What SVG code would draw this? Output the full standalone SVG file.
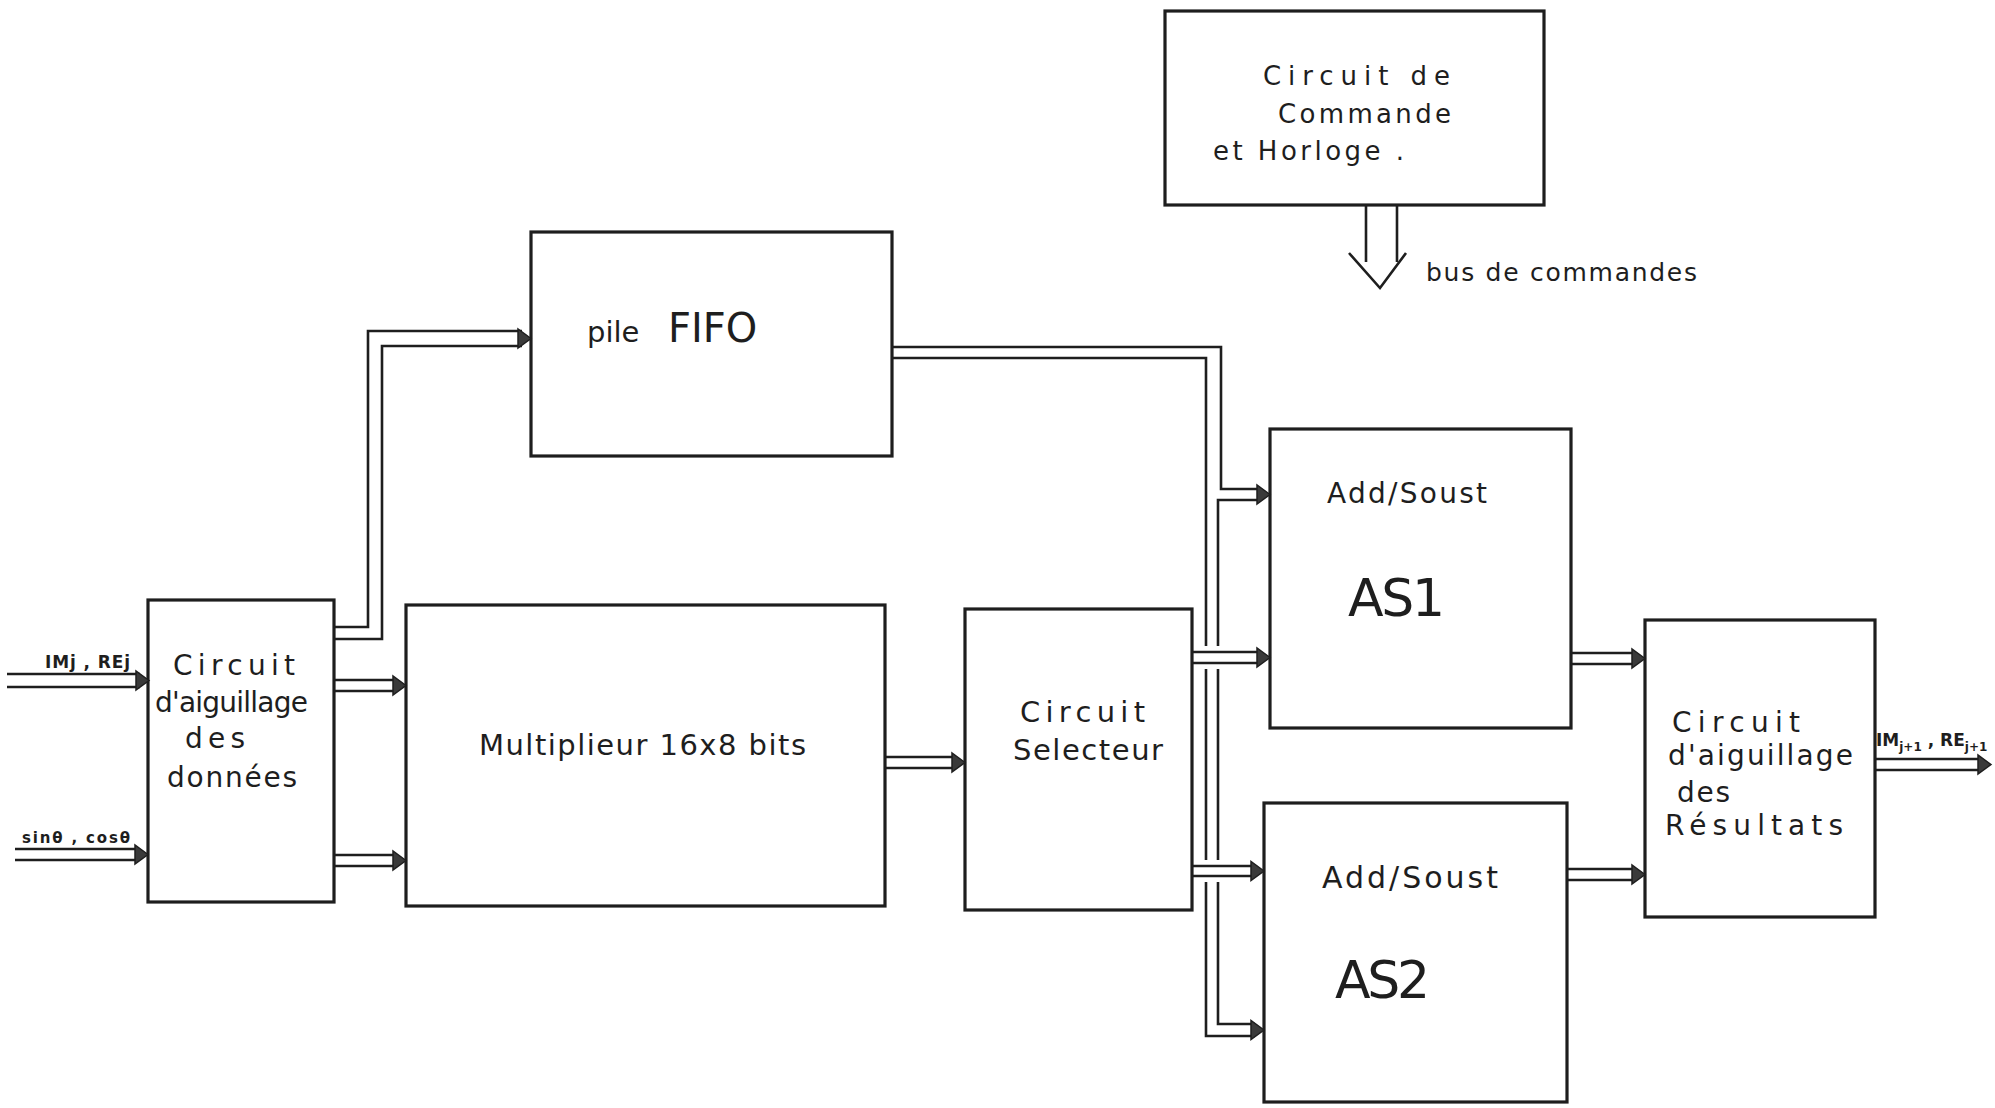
<svg xmlns="http://www.w3.org/2000/svg" width="1995" height="1108" viewBox="0 0 1995 1108">
<style>
.box{fill:none;stroke:#1e1e1e;stroke-width:3.2}
.ln{fill:none;stroke:#1e1e1e;stroke-width:2.6;stroke-linejoin:miter}
.ah{fill:#3a3a3a;stroke:#1e1e1e;stroke-width:1.5}
.t{font-family:"DejaVu Sans","Liberation Sans",sans-serif;fill:#1e1e1e}
.lb{font-family:"DejaVu Sans","Liberation Sans",sans-serif;fill:#1e1e1e;font-weight:bold}
</style>
<defs>
<path id="ah" d="M0,0 L-13,-9.5 L-13,9.5 Z"/>
</defs>
<rect width="1995" height="1108" fill="#ffffff"/>

<g id="cmd">
<rect class="box" x="1165" y="11" width="379" height="194"/>
<text class="t" x="1263" y="85" font-size="26" textLength="187" lengthAdjust="spacing">Circuit de</text>
<text class="t" x="1278" y="123" font-size="26" textLength="173" lengthAdjust="spacing">Commande</text>
<text class="t" x="1213" y="160" font-size="26" textLength="191" lengthAdjust="spacing">et Horloge .</text>
</g>

<g id="fifo">
<rect class="box" x="531" y="232" width="361" height="224"/>
<text class="t" x="587" y="342"><tspan font-size="29">pile</tspan><tspan x="668" font-size="40">FIFO</tspan></text>
</g>

<g id="aiguillage-donnees">
<rect class="box" x="148" y="600" width="186" height="302"/>
<text class="t" x="173" y="675" font-size="28" textLength="122" lengthAdjust="spacing">Circuit</text>
<text class="t" x="155" y="712" font-size="28" textLength="153" lengthAdjust="spacing">d'aiguillage</text>
<text class="t" x="185" y="748" font-size="28" textLength="60" lengthAdjust="spacing">des</text>
<text class="t" x="167" y="787" font-size="28" textLength="130" lengthAdjust="spacing">données</text>
</g>

<g id="multiplieur">
<rect class="box" x="406" y="605" width="479" height="301"/>
<text class="t" x="479" y="755" font-size="29" textLength="327" lengthAdjust="spacing">Multiplieur 16x8 bits</text>
</g>

<g id="selecteur">
<rect class="box" x="965" y="609" width="227" height="301"/>
<text class="t" x="1020" y="722" font-size="29" textLength="125" lengthAdjust="spacing">Circuit</text>
<text class="t" x="1013" y="760" font-size="29" textLength="150" lengthAdjust="spacing">Selecteur</text>
</g>

<g id="as1">
<rect class="box" x="1270" y="429" width="301" height="299"/>
<text class="t" x="1327" y="503" font-size="28" textLength="160" lengthAdjust="spacing">Add/Soust</text>
<text class="t" x="1348" y="616" font-size="52" textLength="97" lengthAdjust="spacing">AS1</text>
</g>

<g id="as2">
<rect class="box" x="1264" y="803" width="303" height="299"/>
<text class="t" x="1322" y="888" font-size="30" textLength="176" lengthAdjust="spacing">Add/Soust</text>
<text class="t" x="1335" y="998" font-size="52" textLength="95" lengthAdjust="spacing">AS2</text>
</g>

<g id="aiguillage-resultats">
<rect class="box" x="1645" y="620" width="230" height="297"/>
<text class="t" x="1672" y="732" font-size="28" textLength="128" lengthAdjust="spacing">Circuit</text>
<text class="t" x="1668" y="765" font-size="28" textLength="185" lengthAdjust="spacing">d'aiguillage</text>
<text class="t" x="1677" y="802" font-size="28" textLength="53" lengthAdjust="spacing">des</text>
<text class="t" x="1665" y="835" font-size="28" textLength="178" lengthAdjust="spacing">Résultats</text>
</g>

<g id="connectors">
<!-- inputs -->
<path class="ln" d="M7,674 H140 M7,687 H140"/>
<use href="#ah" class="ah" transform="translate(149,680.5)"/>
<text class="lb" x="45" y="668" font-size="17" textLength="85" lengthAdjust="spacing">IMj , REj</text>
<path class="ln" d="M15,849 H139 M15,860 H139"/>
<use href="#ah" class="ah" transform="translate(148,854.5)"/>
<text class="lb" x="22" y="843" font-size="15" textLength="108" lengthAdjust="spacing">sinθ , cosθ</text>

<!-- aiguillage to FIFO -->
<path class="ln" d="M334,627 H368 V331 H522 M334,639 H382 V346 H522"/>
<use href="#ah" class="ah" transform="translate(531,338.5)"/>
<!-- aiguillage to multiplieur -->
<path class="ln" d="M334,680 H397 M334,691 H397"/>
<use href="#ah" class="ah" transform="translate(406,685.5)"/>
<path class="ln" d="M334,855 H397 M334,866 H397"/>
<use href="#ah" class="ah" transform="translate(406,860.5)"/>
<!-- multiplieur to selecteur -->
<path class="ln" d="M885,757 H956 M885,768 H956"/>
<use href="#ah" class="ah" transform="translate(965,762.5)"/>

<!-- FIFO bus to AS1 / AS2 -->
<path class="ln" d="M892,347 H1221 V489 H1261"/>
<path class="ln" d="M892,358 H1206 V646 M1206,669 V860 M1206,882 V1036 H1255"/>
<path class="ln" d="M1261,500 H1218 V646 M1218,669 V860 M1218,882 V1024 H1255"/>
<use href="#ah" class="ah" transform="translate(1270,494.5)"/>
<use href="#ah" class="ah" transform="translate(1264,1030)"/>

<!-- selecteur to AS1 / AS2 -->
<path class="ln" d="M1192,652 H1261 M1192,663 H1261"/>
<use href="#ah" class="ah" transform="translate(1270,657.5)"/>
<path class="ln" d="M1192,866 H1255 M1192,876 H1255"/>
<use href="#ah" class="ah" transform="translate(1264,871)"/>

<!-- AS to resultats -->
<path class="ln" d="M1571,653 H1636 M1571,664 H1636"/>
<use href="#ah" class="ah" transform="translate(1645,658.5)"/>
<path class="ln" d="M1567,869 H1636 M1567,880 H1636"/>
<use href="#ah" class="ah" transform="translate(1645,874.5)"/>

<!-- output -->
<path class="ln" d="M1875,759 H1982 M1875,770 H1982"/>
<use href="#ah" class="ah" transform="translate(1991,764.5)"/>
<text class="lb" x="1876" y="746" font-size="17">IM<tspan font-size="12" dy="5">j+1</tspan><tspan dy="-5"> , RE</tspan><tspan font-size="12" dy="5">j+1</tspan></text>

<!-- bus de commandes -->
<path class="ln" d="M1366,205 V262 M1397,205 V262"/>
<path class="ln" d="M1349,253 L1380,288 L1406,253"/>
<text class="t" x="1426" y="281" font-size="25" textLength="271" lengthAdjust="spacing">bus de commandes</text>
</g>
</svg>
